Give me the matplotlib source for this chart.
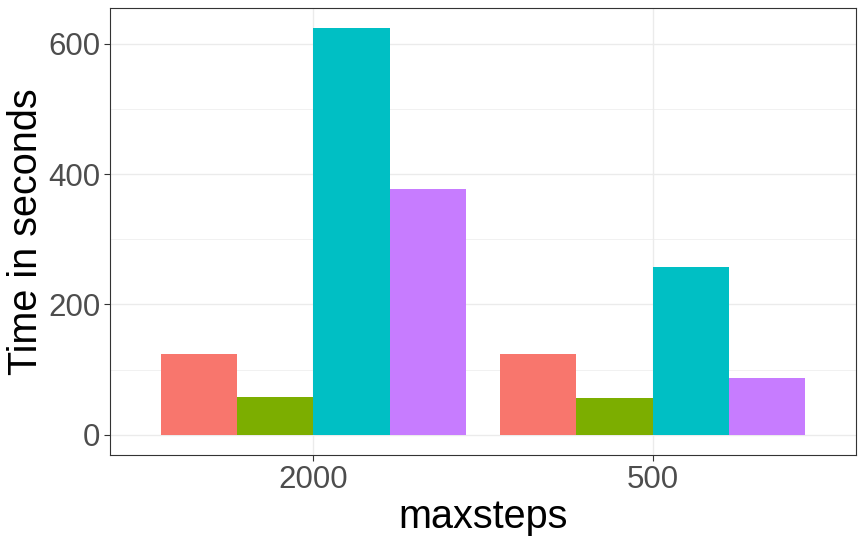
import numpy as np
import matplotlib.pyplot as plt

plt.rcParams['font.family'] = ['Liberation Sans', 'DejaVu Sans']

# data
maxsteps = ['2000', '500']
series = ['a', 'b', 'c', 'd']
times = {
    'a': [124, 124],
    'b': [58, 57],
    'c': [624, 257],
    'd': [378, 87],
}
colors = ['#F8766D', '#7CAE00', '#00BFC4', '#C77CFF']

fig = plt.figure(figsize=(8.62, 5.40), dpi=100)
ax = fig.add_axes([110 / 862, 1 - 455 / 540, 746 / 862, 447 / 540])

x = np.arange(1, len(maxsteps) + 1)
w = 0.9 / len(series)
for i, s in enumerate(series):
    ax.bar(x - 0.45 + w * (i + 0.5), times[s], width=w, color=colors[i], zorder=3)

ax.set_xlim(0.4, 2.6)
ax.set_ylim(-31.2, 655.2)
ax.set_xticks(x)
ax.set_xticklabels(maxsteps)
ax.set_yticks([0, 200, 400, 600])
ax.set_yticks([100, 300, 500], minor=True)

ax.grid(True, which='major', color='#EBEBEB', linewidth=1.0, zorder=0)
ax.grid(True, which='minor', axis='y', color='#EBEBEB', linewidth=0.5, zorder=0)
ax.tick_params(axis='both', which='major', labelsize=22.5, labelcolor='#4D4D4D',
               color='#333333', length=4, pad=3)
ax.tick_params(axis='y', which='minor', length=0)
for sp in ax.spines.values():
    sp.set_color('#333333')
    sp.set_linewidth(0.8)

ax.set_xlabel('maxsteps', fontsize=28.5, labelpad=2)
ax.set_ylabel('Time in seconds', fontsize=28.5, labelpad=2)

fig.savefig('out.png', dpi=100)
